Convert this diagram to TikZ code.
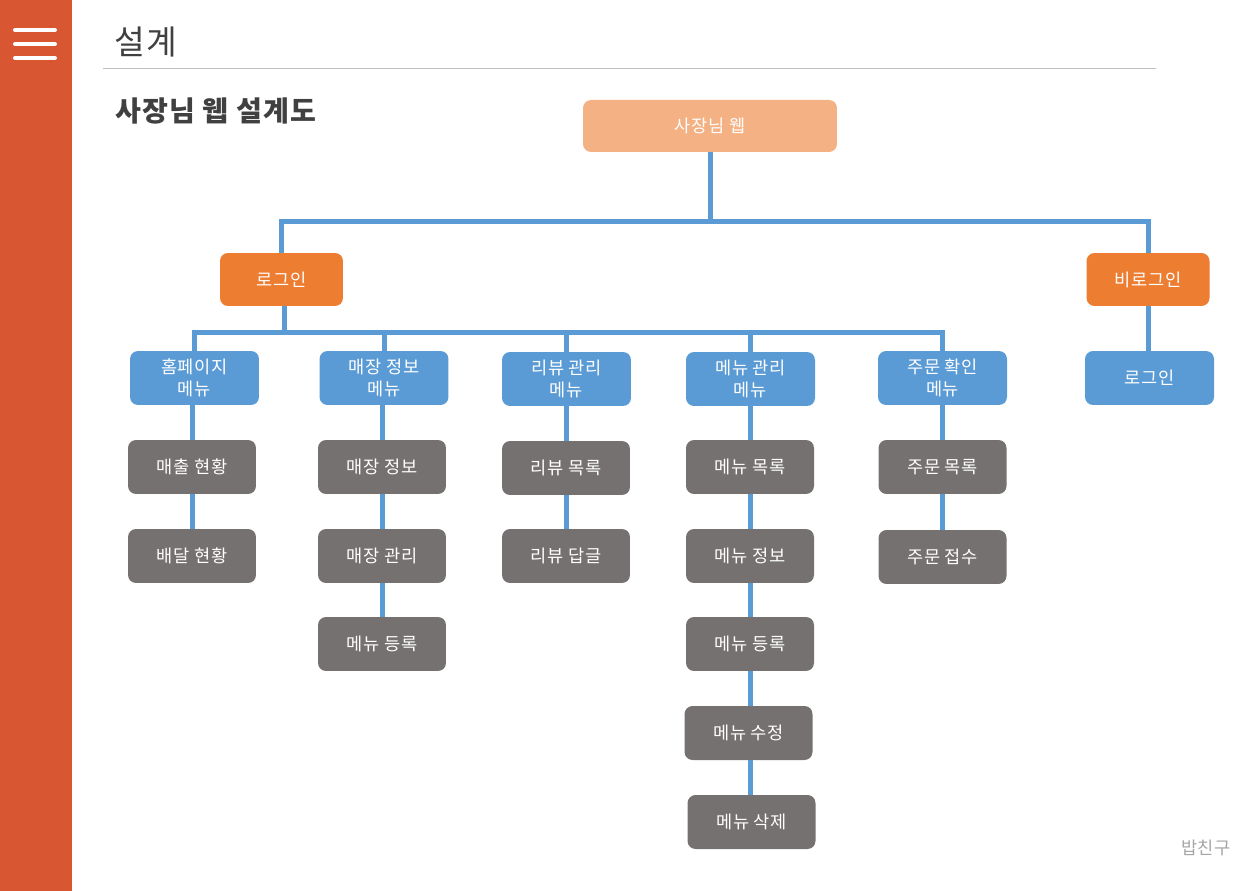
\documentclass[tikz,border=0pt]{standalone}
\usepackage{fontspec}
\setmainfont{Noto Sans CJK KR}[LetterSpace=4]
\definecolor{sidebar}{HTML}{D95633}
\definecolor{rootfill}{HTML}{F4B183}
\definecolor{loginfill}{HTML}{ED7D31}
\definecolor{menufill}{HTML}{5B9BD5}
\definecolor{itemfill}{HTML}{767171}
\definecolor{treeline}{HTML}{5B9BD5}
\definecolor{titlegray}{HTML}{404040}
\definecolor{rulegray}{HTML}{BFBFBF}
\definecolor{footgray}{HTML}{A6A6A6}

\begin{document}
\begin{tikzpicture}[x=0.02cm,y=-0.02cm,
  box/.style={rounded corners=0.16cm,text=white,align=center,inner sep=0pt,
    font=\fontsize{10}{12.2}\selectfont,minimum width=2.56cm,minimum height=1.08cm},
  rootbox/.style={box,fill=rootfill,minimum width=5.08cm,minimum height=1.04cm},
  logbox/.style={box,fill=loginfill,minimum width=2.46cm,minimum height=1.06cm},
  menubox/.style={box,fill=menufill,minimum width=2.58cm},
  itembox/.style={box,fill=itemfill},
  conn/.style={treeline,line width=0.1cm}]
\useasboundingbox (0,0) rectangle (1260,891);
% side bar
\fill[sidebar] (0,0) rectangle (72,891);
\foreach \y in {30,44,58}{
  \draw[white,line width=0.08cm,line cap=round] (15,\y) -- (55,\y);
}
% heading
\node[anchor=west,text=titlegray,font=\fontsize{19}{22}\selectfont] (title) at (108,42) {설계};
\draw[rulegray,line width=0.02cm] (103,69) -- (1156,69);
\node[anchor=west,text=titlegray,font=\fontsize{16}{19}\selectfont\bfseries] (subtitle) at (109,111) {사장님 웹 설계도};
\node[text=footgray,font=\fontsize{10}{12}\selectfont] (footer) at (1206,848) {밥친구};

% tree
\node[rootbox] (root) at (710,126) {사장님 웹};
\node[logbox] (login) at (281.5,279.5) {로그인};
\node[logbox] (nologin) at (1148,279.5) {비로그인};

\node[menubox] (home) at (194.5,378) {홈페이지\\메뉴};
\node[menubox] (store) at (384,378) {매장 정보\\메뉴};
\node[menubox] (review) at (566.5,379) {리뷰 관리\\메뉴};
\node[menubox] (menu) at (750.5,379) {메뉴 관리\\메뉴};
\node[menubox] (order) at (942.5,378) {주문 확인\\메뉴};
\node[menubox] (signin) at (1149.5,378) {로그인};

\node[itembox] (sales) at (192,467) {매출 현황};
\node[itembox] (delivery) at (192,556) {배달 현황};
\node[itembox] (storeinfo) at (382,467) {매장 정보};
\node[itembox] (storemgmt) at (382,556) {매장 관리};
\node[itembox] (storereg) at (382,644) {메뉴 등록};
\node[itembox] (revlist) at (566,468) {리뷰 목록};
\node[itembox] (revreply) at (566,556) {리뷰 답글};
\node[itembox] (menulist) at (750,467) {메뉴 목록};
\node[itembox] (menuinfo) at (750,556) {메뉴 정보};
\node[itembox] (menureg) at (750,644) {메뉴 등록};
\node[itembox] (menuedit) at (748.5,733) {메뉴 수정};
\node[itembox] (menudel) at (751.5,822) {메뉴 삭제};
\node[itembox] (orderlist) at (942.5,467) {주문 목록};
\node[itembox] (orderacc) at (942.5,557) {주문 접수};

% connectors
\coordinate (lvone) at (0,222);
\coordinate (lvtwo) at (0,333);
\draw[conn] (root.south) -- (root.south |- lvone);
\draw[conn] (login.north) -- (login.north |- lvone) -- (nologin.north |- lvone) -- (nologin.north);
\draw[conn] ([xshift=0.05cm]login.south) -- ([xshift=0.05cm]login.south |- lvtwo);
\draw[conn] (home.north) -- (home.north |- lvtwo) -- (order.north |- lvtwo) -- (order.north);
\foreach \m in {store,review,menu}{
  \draw[conn] (\m.north) -- (\m.north |- lvtwo);
}
\draw[conn] (nologin.south) -- (nologin.south |- signin.north);
\foreach \u/\v/\c in {home/sales/sales,sales/delivery/sales,store/storeinfo/storeinfo,
  storeinfo/storemgmt/storeinfo,storemgmt/storereg/storeinfo,review/revlist/revlist,
  revlist/revreply/revlist,menu/menulist/menu,menulist/menuinfo/menu,menuinfo/menureg/menu,
  menureg/menuedit/menu,menuedit/menudel/menu,order/orderlist/order,orderlist/orderacc/order}{
  \draw[conn] (\u.south -| \c) -- (\v.north -| \c);
}
\end{tikzpicture}
\end{document}
